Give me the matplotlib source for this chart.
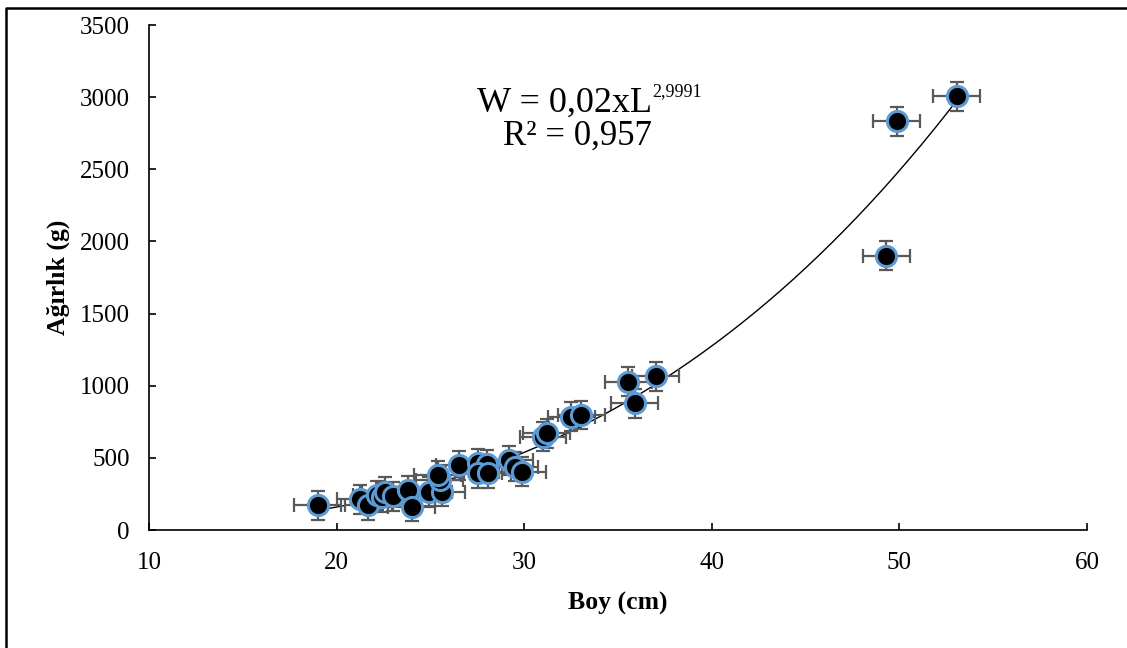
import numpy as np
import matplotlib.pyplot as plt
from matplotlib.lines import Line2D

plt.rcParams['font.family'] = ['Liberation Serif', 'DejaVu Serif']

# Boy (cm) ve Ağırlık (g)
boy = [19.0, 21.25, 21.7, 22.15, 22.4, 22.6, 23.0, 23.8, 24.0, 24.9,
       25.6, 25.5, 25.4, 26.55, 27.55, 28.0, 27.55, 28.05, 29.2, 29.5,
       29.9, 31.0, 31.2, 32.5, 33.05, 35.55, 37.0, 35.9, 53.05, 49.85, 49.3]
agirlik = [173, 213, 173, 242, 226, 265, 235, 277, 162, 265,
           265, 347, 381, 450, 462, 457, 393, 393, 485, 439,
           404, 647, 670, 785, 797, 1028, 1067, 878, 3005, 2834, 1901]
x_hata = 1.25
y_hata = 100

# W = a * L^b
a = 0.02
b = 2.9991
r2_txt = "0,957"

fig = plt.figure(figsize=(11.27, 6.48), dpi=100)
ax = fig.add_axes([0.1322, 0.182, 0.8323, 0.7794])

# kenarlık: sadece üst ve sol çizgi görünüyor
fig.lines.append(Line2D([0.0055, 0.0055, 1.0], [0.0, 0.988, 0.988], transform=fig.transFigure,
                        color='black', linewidth=1.8))

L = np.linspace(min(boy), max(boy), 200)
ax.plot(L, a * L ** b, color='black', linewidth=1.0, zorder=2)

ax.errorbar(boy, agirlik, xerr=x_hata, yerr=y_hata, fmt='none', ecolor='#595959',
            elinewidth=1.6, capsize=5, capthick=1.6, zorder=3)
ax.scatter(boy, agirlik, s=210, color='black', edgecolors='#5b9bd5', linewidths=2.2, zorder=4)

ax.set_xlim(10, 60)
ax.set_ylim(0, 3500)
ax.set_xticks([10, 20, 30, 40, 50, 60])
ax.set_yticks(range(0, 3501, 500))
ax.tick_params(direction='in', labelsize=18, width=1.2, length=5)
ax.tick_params(axis='x', pad=16)
ax.tick_params(axis='y', pad=14)
for s in ['top', 'right']:
    ax.spines[s].set_visible(False)
for s in ['left', 'bottom']:
    ax.spines[s].set_linewidth(1.2)

ax.set_xlabel("Boy (cm)", fontsize=18.5, fontweight='bold')
ax.set_ylabel("Ağırlık (g)", fontsize=18.5, fontweight='bold')
ax.xaxis.set_label_coords(0.5, -0.123)
ax.yaxis.set_label_coords(-0.084, 0.5)

t = ax.text(27.5, 2960, "W = 0,02xL", fontsize=26, ha='left', va='center')
ax.annotate("2,9991", xy=(1, 0.6), xycoords=t, fontsize=13, ha='left', va='bottom')
ax.text(32.85, 2730, "R² = " + r2_txt, fontsize=25, ha='center', va='center')

fig.savefig("out.png", dpi=100)
